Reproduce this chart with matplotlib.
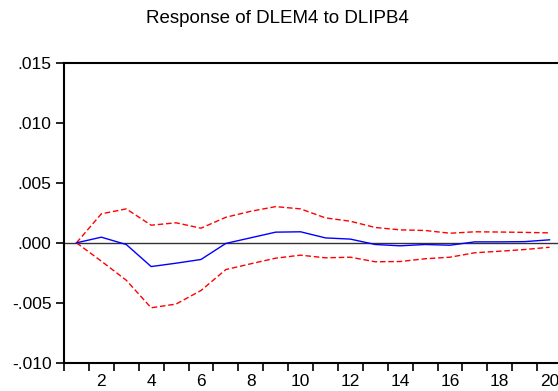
import matplotlib
matplotlib.use('Agg')
import matplotlib.pyplot as plt
import numpy as np
from matplotlib.ticker import MultipleLocator, FuncFormatter

plt.rcParams['font.family'] = ['Liberation Sans', 'DejaVu Sans']

# impulse response of DLEM4 to a shock in DLIPB4, with +/- 2 s.e. bands
periods = np.arange(1, 21)
response = [0.0, 0.00047, -0.00014, -0.00198, -0.0017, -0.00139, -0.00005, 0.00042,
            0.00089, 0.00092, 0.00041, 0.00031, -0.00014, -0.00025, -0.00014,
            -0.0002, 0.00008, 0.00008, 0.0001, 0.00025]
upper = [0.0, 0.00242, 0.00283, 0.00147, 0.00167, 0.00122, 0.00213, 0.00263,
         0.00302, 0.00283, 0.00208, 0.0018, 0.00128, 0.00108, 0.00103,
         0.0008, 0.00092, 0.0009, 0.00087, 0.00083]
lower = [0.0, -0.00153, -0.00312, -0.00542, -0.00511, -0.00398, -0.00223, -0.00175,
         -0.00128, -0.00103, -0.00125, -0.0012, -0.00158, -0.00156, -0.00133,
         -0.0012, -0.00083, -0.0007, -0.00056, -0.00037]

fig = plt.figure(figsize=(5.58, 3.91), dpi=100)
ax = fig.add_axes([64 / 558, 1 - 362.7 / 391, 498 / 558, 299.7 / 391])

ax.axhline(0, color='#333333', lw=1.0, zorder=1)
ax.plot(periods, response, color='#0000ff', lw=1.0, zorder=3)
ax.plot(periods, upper, color='#ff0000', lw=1.0, ls=(0, (4, 2)), zorder=2)
ax.plot(periods, lower, color='#ff0000', lw=1.0, ls=(0, (4, 2)), zorder=2)

ax.set_xlim(0.5, 20.5)
ax.set_ylim(-0.010, 0.015)

# period labels in the middle, tick marks between periods
ax.xaxis.set_major_locator(MultipleLocator(2))
ax.xaxis.set_minor_locator(MultipleLocator(1, offset=0.5))
ax.tick_params(axis='x', which='major', length=0, pad=8, labelsize=12.5)
ax.tick_params(axis='x', which='minor', length=6, width=1.2, direction='out')

ax.yaxis.set_major_locator(MultipleLocator(0.005))
ax.yaxis.set_major_formatter(FuncFormatter(lambda v, p: ('%.3f' % v).replace('0.', '.')))
ax.tick_params(axis='y', length=6, width=1.2, direction='out', labelsize=12.5, pad=3)

for side in ['left', 'top', 'bottom', 'right']:
    ax.spines[side].set_linewidth(1.5)

fig.text(0.497, 0.952, 'Response of DLEM4 to DLIPB4', ha='center', va='center', fontsize=13.5)

fig.savefig('out.png', dpi=100)
